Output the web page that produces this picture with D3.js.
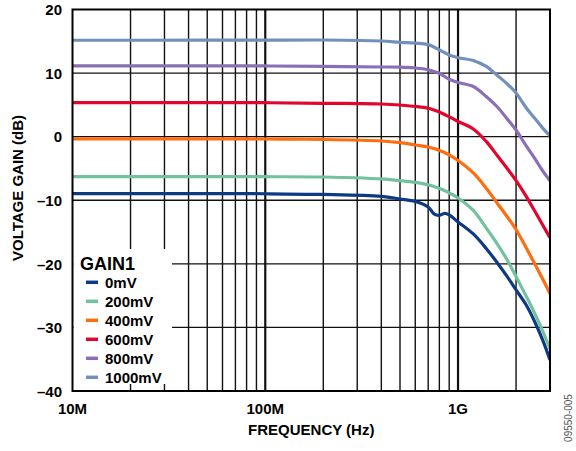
<!DOCTYPE html>
<html>
<head>
<meta charset="utf-8">
<script src="https://cdn.jsdelivr.net/npm/d3@7"></script>
<style>
  html, body { margin: 0; padding: 0; background: #fff; }
  svg { display: block; }
  text { font-family: "Liberation Sans", Arial, sans-serif; }
</style>
</head>
<body>
<svg id="chart" width="576" height="451"></svg>
<script>
// Frequency points (MHz) shared by every trace
const freqMHz = [10, 50, 100, 200, 400, 500, 600, 700, 750, 800, 850, 900, 1000, 1200, 1400, 1600, 1800, 2000, 2250, 2500, 2750, 3000];

// Voltage gain (dB) for each GAIN1 setting
const gain0mV    = [-8.96, -8.96, -8.98, -9.09, -9.40, -9.80, -10.19, -11.05, -12.15, -12.39, -12.08, -12.31, -13.41, -15.30, -17.58, -19.86, -22.0, -24.1, -26.4, -29.1, -32.0, -35.1];
const gain200mV  = [-6.29, -6.29, -6.30, -6.34, -6.65, -6.92, -7.20, -7.59, -7.83, -8.14, -8.46, -8.85, -9.64, -11.60, -14.36, -16.9, -19.4, -22.0, -25.0, -27.8, -30.6, -33.4];
const gain400mV  = [-0.36, -0.36, -0.37, -0.44, -0.68, -0.94, -1.31, -1.62, -1.86, -2.17, -2.48, -2.88, -3.74, -5.7, -8.1, -10.5, -12.6, -14.6, -17.4, -20.0, -22.4, -24.7];
const gain600mV  = [5.35, 5.35, 5.34, 5.25, 5.14, 4.98, 4.75, 4.47, 4.20, 3.88, 3.49, 3.14, 2.39, 1.21, -0.75, -3.0, -5.0, -6.9, -9.3, -11.7, -13.9, -15.9];
const gain800mV  = [11.12, 11.12, 11.12, 11.04, 10.96, 10.93, 10.80, 10.53, 10.25, 9.97, 9.47, 9.03, 8.52, 7.89, 6.32, 4.67, 2.78, 1.05, -1.38, -3.43, -5.39, -6.95];
const gain1000mV = [15.16, 15.17, 15.18, 15.2, 15.05, 14.84, 14.70, 14.47, 14.11, 13.63, 13.24, 12.84, 12.42, 11.98, 11.04, 9.62, 8.29, 6.87, 4.59, 2.89, 1.34, 0.11];

const seriesNames  = ["0mV", "200mV", "400mV", "600mV", "800mV", "1000mV"];
const seriesColors = ["#0d3a82", "#72c29e", "#ff6d0d", "#e2062f", "#8b6fb6", "#7390bd"];
const seriesGains  = [gain0mV, gain200mV, gain400mV, gain600mV, gain800mV, gain1000mV];

// Axis ticks
const yTicks = [-40, -30, -20, -10, 0, 10, 20];
const xLabelTicks = [1e7, 1e8, 1e9];
const xLabelText  = ["10M", "100M", "1G"];

const svg = d3.select("#chart");
const plotLeft = 72.5, plotRight = 550, plotTop = 9.5, plotBottom = 391;

const x = d3.scaleLog().domain([1e7, 3e9]).range([plotLeft, plotRight]);
const y = d3.scaleLinear().domain([-40, 20]).range([plotBottom, plotTop]);

// Vertical grid: 1-9 of each decade, decades drawn heavier
const vLines = [];
for (let dec = 1e7; dec <= 1e9; dec *= 10) {
  for (let m = 1; m <= 9; m++) {
    const f = dec * m;
    if (f > 1e7 && f < 3e9) vLines.push({ f, major: m === 1 });
  }
}
const grid = svg.append("g");
grid.selectAll("line.v").data(vLines).join("line")
  .attr("x1", d => x(d.f)).attr("x2", d => x(d.f))
  .attr("y1", plotTop).attr("y2", plotBottom)
  .attr("stroke", "#111")
  .attr("stroke-width", d => d.major ? 2.2 : 1.4);

grid.selectAll("line.h").data(yTicks.filter(t => t > -40 && t < 20)).join("line")
  .attr("x1", plotLeft).attr("x2", plotRight)
  .attr("y1", d => y(d)).attr("y2", d => y(d))
  .attr("stroke", "#111").attr("stroke-width", 1.4);

// Legend background masks the grid beneath it
svg.append("rect")
  .attr("x", plotLeft + 1).attr("y", 249)
  .attr("width", 98.5).attr("height", 135)
  .attr("fill", "#fff");

// Traces
svg.append("clipPath").attr("id", "plotClip")
  .append("rect").attr("x", plotLeft).attr("y", plotTop)
  .attr("width", plotRight - plotLeft).attr("height", plotBottom - plotTop);

const line = d3.line()
  .x(d => x(d[0] * 1e6))
  .y(d => y(d[1]))
  .curve(d3.curveCatmullRom.alpha(0.5));

const traces = svg.append("g").attr("clip-path", "url(#plotClip)");
seriesGains.forEach((g, i) => {
  traces.append("path")
    .datum(freqMHz.map((f, j) => [f, g[j]]))
    .attr("d", line)
    .attr("fill", "none")
    .attr("stroke", seriesColors[i])
    .attr("stroke-width", 3.2)
    .attr("stroke-linejoin", "round")
    .attr("stroke-linecap", "butt");
});

// Frame
svg.append("rect")
  .attr("x", plotLeft).attr("y", plotTop)
  .attr("width", plotRight - plotLeft).attr("height", plotBottom - plotTop)
  .attr("fill", "none").attr("stroke", "#000").attr("stroke-width", 2);

// Y tick labels
svg.append("g").selectAll("text").data(yTicks).join("text")
  .attr("x", 62).attr("y", d => y(d))
  .attr("dy", "0.38em")
  .attr("text-anchor", "end")
  .attr("font-size", 15).attr("font-weight", "bold")
  .text(d => d < 0 ? "\u2013" + Math.abs(d) : String(d));

// X tick labels
svg.append("g").selectAll("text").data(xLabelTicks).join("text")
  .attr("x", d => x(d)).attr("y", 414)
  .attr("text-anchor", "middle")
  .attr("font-size", 15).attr("font-weight", "bold")
  .text((d, i) => xLabelText[i]);

// Axis titles
svg.append("text")
  .attr("x", (plotLeft + plotRight) / 2).attr("y", 435)
  .attr("text-anchor", "middle")
  .attr("font-size", 15).attr("font-weight", "bold")
  .text("FREQUENCY (Hz)");

svg.append("text")
  .attr("transform", "translate(23,188) rotate(-90)")
  .attr("text-anchor", "middle")
  .attr("font-size", 15).attr("font-weight", "bold")
  .text("VOLTAGE GAIN (dB)");

// Legend
const legend = svg.append("g");
legend.append("text")
  .attr("x", 80).attr("y", 269.5)
  .attr("font-size", 18).attr("font-weight", "bold")
  .text("GAIN1");
const items = legend.selectAll("g.item").data(seriesNames).join("g")
  .attr("transform", (d, i) => `translate(0, ${282.3 + i * 19})`);
items.append("line")
  .attr("x1", 86).attr("x2", 98).attr("y1", 0).attr("y2", 0)
  .attr("stroke", (d, i) => seriesColors[i]).attr("stroke-width", 3.5);
items.append("text")
  .attr("x", 105).attr("y", 5.3)
  .attr("font-size", 15).attr("font-weight", "bold")
  .text(d => d);

// Figure code
svg.append("text")
  .attr("transform", "translate(572,418) rotate(-90)")
  .attr("text-anchor", "middle")
  .attr("font-size", 10).attr("fill", "#555")
  .text("09550-005");
</script>
</body>
</html>
